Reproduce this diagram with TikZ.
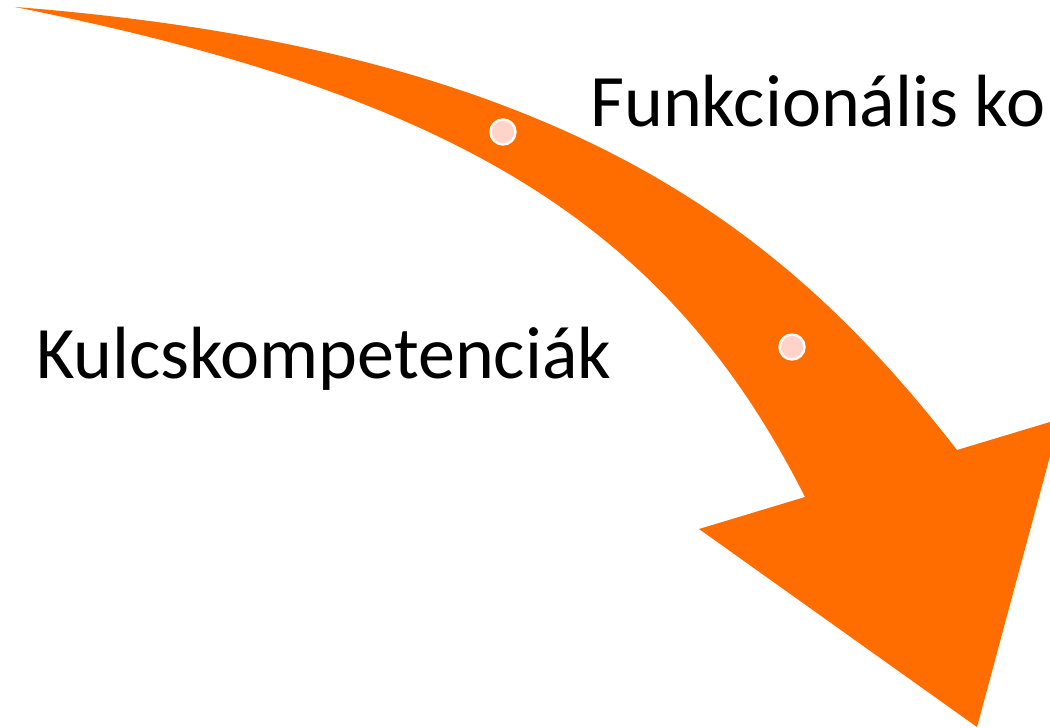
\documentclass[tikz,border=0pt]{standalone}
\usepackage{fontspec}
\setmainfont{Carlito}
\definecolor{arroworange}{HTML}{FF6D00}
\definecolor{dotpink}{HTML}{FFD3CA}
\begin{document}
\begin{tikzpicture}[x=1pt,y=-1pt,
  dot/.style={circle,fill=dotpink,draw=white,line width=2.4pt,minimum size=25pt,inner sep=0pt},
  label/.style={font=\fontsize{74}{88}\selectfont,inner sep=0pt,anchor=base west,text=black}]
\useasboundingbox (0,0) rectangle (1050,728);
\begin{scope}
\clip (0,0) rectangle (1050,728);
\fill[arroworange] (15,7) .. controls (565,50) and (785,229) .. (957,450)
  -- (1060,419) -- (977,727) -- (699,529) -- (805,497)
  .. controls (670,230) and (465,97) .. (15,7) -- cycle;
\end{scope}
\node[dot] (d1) at (503,132) {};
\node[dot] (d2) at (792,347) {};
\node[label] (t1) at (590,126) {Funkcionális ko};
\node[label] (t2) at (36,378) {Kulcskompetenciák};
\end{tikzpicture}
\end{document}
